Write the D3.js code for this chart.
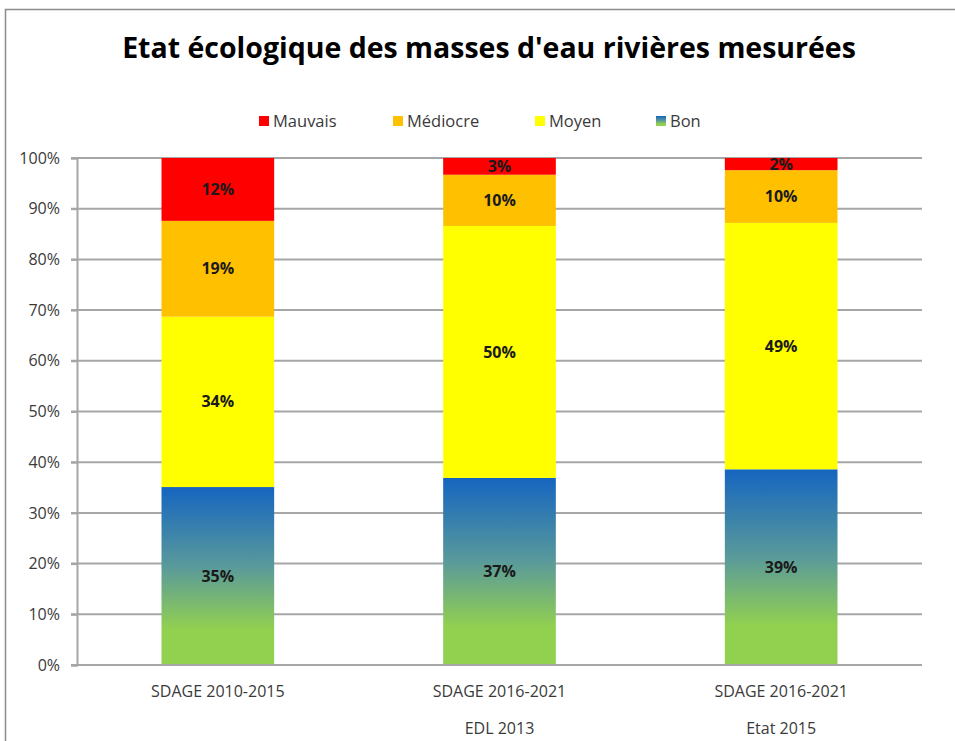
<!DOCTYPE html>
<html>
<head>
<meta charset="utf-8">
<script src="https://cdn.jsdelivr.net/npm/d3@7"></script>
<style>
  body { margin: 0; background: #fff; }
  svg { display: block; font-family: "Open Sans", "Liberation Sans", sans-serif; }
</style>
</head>
<body>
<svg id="painter" width="955" height="741"></svg>
<script>
const categories = [["SDAGE 2010-2015"], ["SDAGE 2016-2021", "EDL 2013"], ["SDAGE 2016-2021", "Etat 2015"]];
const seriesNames = ["Bon", "Moyen", "Médiocre", "Mauvais"];
const bon = [35.1, 36.9, 38.6];
const moyen = [33.6, 49.7, 48.6];
const mediocre = [18.9, 10.1, 10.4];
const mauvais = [12.4, 3.3, 2.4];
const yTicks = [0, 10, 20, 30, 40, 50, 60, 70, 80, 90, 100];
const legendOrder = ["Mauvais", "Médiocre", "Moyen", "Bon"];

const colors = { "Mauvais": "#ff0000", "Médiocre": "#ffc000", "Moyen": "#ffff00", "Bon": "url(#bonGrad)" };

const rows = categories.map((c, i) => ({
    key: i,
    "Bon": bon[i],
    "Moyen": moyen[i],
    "Médiocre": mediocre[i],
    "Mauvais": mauvais[i],
}));

const svg = d3.select("#painter");

// gradient for "Bon"
const defs = svg.append("defs");
const grad = defs.append("linearGradient")
    .attr("id", "bonGrad")
    .attr("x1", 0).attr("y1", 0).attr("x2", 0).attr("y2", 1);
grad.append("stop").attr("offset", "0").attr("stop-color", "#1565c0");
grad.append("stop").attr("offset", "0.45").attr("stop-color", "#5a9a9a");
grad.append("stop").attr("offset", "0.8").attr("stop-color", "#92d050");
grad.append("stop").attr("offset", "1").attr("stop-color", "#92d050");

// outer frame
svg.append("rect")
    .attr("x", 5.5).attr("y", 9.5)
    .attr("width", 960).attr("height", 760)
    .attr("fill", "none")
    .attr("stroke", "#8c8c8c")
    .attr("stroke-width", 1.5);

// title, fitted to the reference width
const title = svg.append("text")
    .attr("x", 489)
    .attr("y", 58)
    .attr("text-anchor", "middle")
    .attr("font-weight", "bold")
    .attr("font-size", 28)
    .attr("fill", "#000")
    .text("Etat écologique des masses d'eau rivières mesurées");
const tw = title.node().getComputedTextLength();
title.attr("font-size", 28 * 734 / tw);

const plotLeft = 77, plotRight = 922, plotTop = 158, plotBottom = 665;

const x = d3.scaleBand()
    .domain(rows.map((d) => d.key))
    .range([plotLeft, plotRight])
    .paddingInner(0.6)
    .paddingOuter(0.3);

const y = d3.scaleLinear()
    .domain([0, 100])
    .range([plotBottom, plotTop]);

// gridlines
svg.append("g")
    .selectAll("line")
    .data(yTicks)
    .enter()
    .append("line")
    .attr("x1", plotLeft - 6)
    .attr("x2", plotRight)
    .attr("y1", (d) => y(d))
    .attr("y2", (d) => y(d))
    .attr("stroke", "#a6a6a6")
    .attr("stroke-width", 2);

// y axis
const yAxis = svg.append("g")
    .attr("transform", `translate(${plotLeft},0)`)
    .call(d3.axisLeft(y).tickValues(yTicks).tickFormat((d) => d + "%").tickSize(6).tickPadding(11));
yAxis.select(".domain").attr("stroke", "#a6a6a6").attr("stroke-width", 2);
yAxis.selectAll(".tick line").attr("stroke", "#a6a6a6").attr("stroke-width", 2);
yAxis.selectAll("text").attr("font-size", 16).attr("fill", "#3a3a3a").attr("font-family", "Open Sans, sans-serif");

// stacked bars
const stack = d3.stack().keys(seriesNames);
const layers = stack(rows);

const groups = svg.append("g")
    .selectAll("g")
    .data(layers)
    .enter()
    .append("g")
    .attr("fill", (d) => colors[d.key]);

groups.selectAll("rect")
    .data((d) => d)
    .enter()
    .append("rect")
    .attr("x", (d) => x(d.data.key))
    .attr("width", x.bandwidth())
    .attr("y", (d) => y(d[1]))
    .attr("height", (d) => y(d[0]) - y(d[1]));

// bottom axis line
svg.append("line")
    .attr("x1", plotLeft).attr("x2", plotRight)
    .attr("y1", plotBottom).attr("y2", plotBottom)
    .attr("stroke", "#a6a6a6").attr("stroke-width", 2);

// value labels
layers.forEach((layer) => {
    svg.append("g")
        .selectAll("text")
        .data(layer)
        .enter()
        .append("text")
        .attr("x", (d) => x(d.data.key) + x.bandwidth() / 2)
        .attr("y", (d) => (y(d[0]) + y(d[1])) / 2)
        .attr("dy", "0.35em")
        .attr("text-anchor", "middle")
        .attr("font-weight", "bold")
        .attr("font-size", 16)
        .attr("fill", "#1a1a1a")
        .text((d) => Math.round(d[1] - d[0]) + "%");
});

// x labels
const xl = svg.append("g")
    .selectAll("text")
    .data(rows)
    .enter()
    .append("text")
    .attr("x", (d) => x(d.key) + x.bandwidth() / 2)
    .attr("y", 697)
    .attr("text-anchor", "middle")
    .attr("font-size", 16)
    .attr("fill", "#3a3a3a");
xl.selectAll("tspan")
    .data((d) => categories[d.key])
    .enter()
    .append("tspan")
    .attr("x", function () { return this.parentNode.getAttribute("x"); })
    .attr("dy", (d, i) => (i === 0 ? 0 : 37))
    .text((d) => d);

// legend
const legendX = [259, 393, 535, 656];
const legend = svg.append("g")
    .selectAll("g")
    .data(legendOrder)
    .enter()
    .append("g")
    .attr("transform", (d, i) => `translate(${legendX[i]},121)`);
legend.append("rect")
    .attr("x", 0).attr("y", -5)
    .attr("width", 10).attr("height", 10)
    .attr("fill", (d) => colors[d]);
legend.append("text")
    .attr("x", 14)
    .attr("dy", "0.35em")
    .attr("font-size", 16.5)
    .attr("fill", "#3a3a3a")
    .text((d) => d);
</script>
</body>
</html>
